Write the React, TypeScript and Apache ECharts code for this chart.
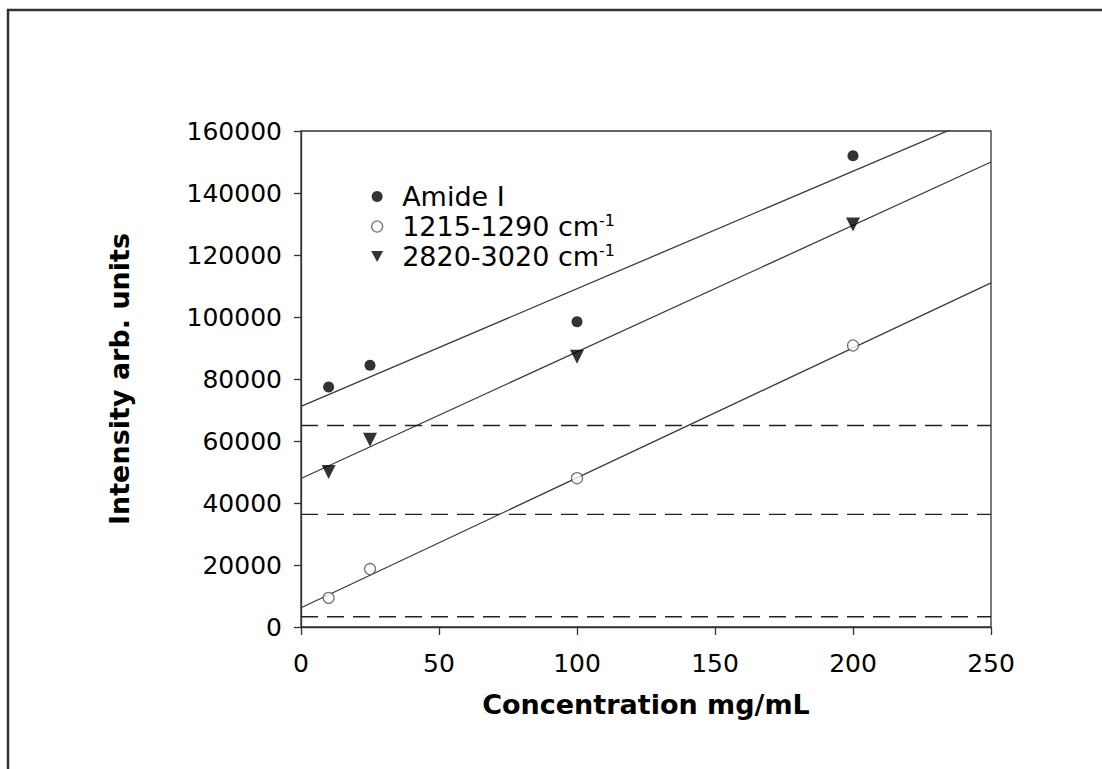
import React, { useEffect, useRef } from "react";
import * as echarts from "echarts";

const concentrations = [10, 25, 100, 200];
const amideI = [77400, 84400, 98500, 152000];
const band1215 = [9400, 18700, 48000, 90800];
const band2820 = [50000, 60400, 87200, 129800];

const amideFit = [[0, 71200], [250, 166000]];
const band1215Fit = [[0, 6200], [250, 111000]];
const band2820Fit = [[0, 47900], [250, 150000]];

const thresholds = [65000, 36300, 3300];

const names = ["Amide I", "1215-1290 cm-1", "2820-3020 cm-1"];

export default function App() {
  const ref = useRef<HTMLDivElement>(null);
  useEffect(() => {
    if (!ref.current) return;
    const chart = echarts.init(ref.current, undefined, { renderer: "svg" });
    const font = "'DejaVu Sans', Verdana, sans-serif";
    const pts = (ys: number[]) => concentrations.map((x, i) => [x, ys[i]]);
    const fitLine = (d: number[][], id: string) => ({
      id,
      type: "line",
      data: d,
      showSymbol: false,
      symbol: "none",
      silent: true,
      clip: true,
      lineStyle: { color: "#3a3a3a", width: 1.3 },
      z: 2,
    });
    const dashLine = (v: number, id: string) => ({
      id,
      type: "line",
      data: [[0, v], [250, v]],
      showSymbol: false,
      symbol: "none",
      silent: true,
      lineStyle: { color: "#222", width: 1.3, type: [17, 9] },
      z: 2,
    });
    chart.setOption({
      animation: false,
      backgroundColor: "#fff",
      textStyle: { fontFamily: font },
      grid: {
        left: 301,
        right: 111,
        top: 131,
        bottom: 142,
        show: true,
        borderColor: "#333",
        borderWidth: 1.3,
      },
      graphic: [
        {
          type: "rect",
          shape: { x: 8, y: 10, width: 1300, height: 1000 },
          style: { fill: "none", stroke: "#333", lineWidth: 2.5 },
          silent: true,
        },
      ],
      legend: {
        orient: "vertical",
        left: 366,
        top: 178,
        itemWidth: 12,
        itemHeight: 11,
        itemGap: 2,
        data: [
          { name: names[0], icon: "circle", itemStyle: { color: "#000" } },
          {
            name: names[1],
            icon: "circle",
            itemStyle: { color: "#fff", borderColor: "#555", borderWidth: 1.3 },
          },
          { name: names[2], icon: "path://M0,0L13,0L6.5,12Z", itemStyle: { color: "#000" } },
        ],
        textStyle: {
          fontFamily: font,
          fontSize: 27,
          color: "#000",
          rich: {
            gap: { width: 14 },
            base: { fontSize: 27, color: "#000", fontFamily: font },
            sup: { fontSize: 16, padding: [0, 0, 13, 0], color: "#000", fontFamily: font },
          },
        },
        formatter: (n: string) =>
          n.endsWith("cm-1")
            ? "{gap|}{base|" + n.replace("cm-1", "cm") + "}{sup|-1}"
            : "{gap|}{base|" + n + "}",
      },
      xAxis: {
        type: "value",
        min: 0,
        max: 250,
        interval: 50,
        name: "Concentration mg/mL",
        nameLocation: "middle",
        nameGap: 64,
        nameTextStyle: { fontSize: 27, fontWeight: "bold", color: "#000", fontFamily: font },
        axisLine: { onZero: false, lineStyle: { color: "#333", width: 1.3 } },
        axisTick: { show: true, inside: false, length: 8, lineStyle: { color: "#333", width: 1.3 } },
        axisLabel: { fontSize: 25, color: "#000", margin: 24, fontFamily: font },
        splitLine: { show: false },
      },
      yAxis: {
        type: "value",
        min: 0,
        max: 160000,
        interval: 20000,
        name: "Intensity arb. units",
        nameLocation: "middle",
        nameRotate: 90,
        nameGap: 168,
        nameTextStyle: { fontSize: 27, fontWeight: "bold", color: "#000", fontFamily: font },
        axisLine: { onZero: false, lineStyle: { color: "#333", width: 1.3 } },
        axisTick: { show: true, inside: false, length: 7, lineStyle: { color: "#333", width: 1.3 } },
        axisLabel: {
          fontSize: 25,
          color: "#000",
          margin: 19,
          fontFamily: font,
          formatter: (v: number) => String(v),
        },
        splitLine: { show: false },
      },
      series: [
        fitLine(amideFit, "fitA"),
        fitLine(band1215Fit, "fitB"),
        fitLine(band2820Fit, "fitC"),
        ...thresholds.map((v, i) => dashLine(v, "dash" + i)),
        {
          name: names[0],
          type: "scatter",
          data: pts(amideI),
          symbol: "circle",
          symbolSize: 11,
          itemStyle: { color: "#000" },
          z: 5,
        },
        {
          name: names[1],
          type: "scatter",
          data: pts(band1215),
          symbol: "circle",
          symbolSize: 11,
          itemStyle: { color: "#fff", borderColor: "#555", borderWidth: 1.3 },
          z: 5,
        },
        {
          name: names[2],
          type: "scatter",
          data: pts(band2820),
          symbol: "triangle",
          symbolRotate: 180,
          symbolSize: 14,
          itemStyle: { color: "#000" },
          z: 5,
        },
      ],
    });
    return () => chart.dispose();
  }, []);
  return (
    <div
      ref={ref}
      style={{ position: "fixed", left: 0, top: 0, width: 1102, height: 769, background: "#fff" }}
    />
  );
}
